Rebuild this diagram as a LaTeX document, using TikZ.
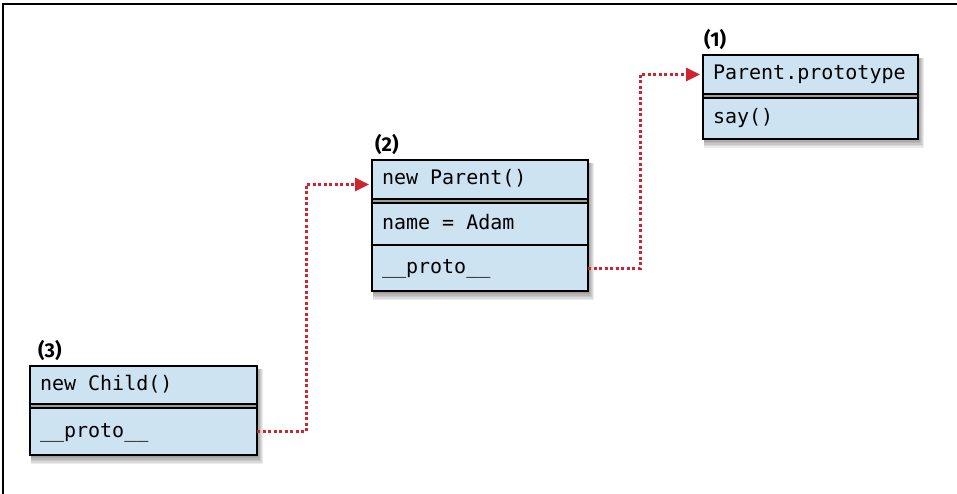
\documentclass[tikz,border=0pt]{standalone}
\usepackage{fontspec}
\setmonofont{DejaVu Sans Mono}
\setsansfont{Fira Sans}
\usepackage{tikz}
\usetikzlibrary{arrows.meta,positioning,backgrounds}
\definecolor{cellblue}{RGB}{205,227,241}
\definecolor{linkred}{RGB}{206,36,48}
\newcommand{\gap}{\hspace{.602em}}
\tikzset{
	cell/.style={draw, line width=1.5pt, fill=cellblue, anchor=north west, outer sep=0pt, inner xsep=10pt, inner ysep=0pt, text width=#1, align=left, font=\ttfamily\fontsize{20}{24}\selectfont, text height=15pt, text depth=4pt},
	frame/.style={draw, line width=2.5pt},
	tag/.style={inner sep=0pt, font=\sffamily\bfseries\fontsize{20}{24}\selectfont},
	link/.style={draw=linkred, line width=3pt, dash pattern=on 3pt off 2.5pt, shorten >=3pt, -{Triangle[length=14pt,width=13pt]}}
}

\begin{document}
\begin{tikzpicture}[x=1pt,y=-1pt]
	\useasboundingbox (0,0) rectangle (957,494);
	\draw[line width=2pt] (3,494) -- (3,4) -- (957,4);
	\node[cell=195pt, minimum height=39pt] (p1head) at (703,55) {Parent.prototype};
	\node[cell=195pt, minimum height=41pt, below right=4pt and 0pt of p1head.south west] (p1say) {say()};
	\node[cell=196pt, minimum height=39pt] (p2head) at (372,160) {new\gap Parent()};
	\node[cell=196pt, minimum height=42pt, below right=4pt and 0pt of p2head.south west] (p2name) {name\gap =\gap Adam};
	\node[cell=196pt, minimum height=46pt, below right=0pt and 0pt of p2name.south west] (p2proto) {\_\_proto\_\_};
	\node[cell=207pt, minimum height=38pt] (p3head) at (30,366) {new\gap Child()};
	\node[cell=207pt, minimum height=47pt, below right=4pt and 0pt of p3head.south west] (p3proto) {\_\_proto\_\_};
	\draw[frame] (p1head.north west) rectangle (p1say.south east);
	\draw[frame] (p2head.north west) rectangle (p2proto.south east);
	\draw[frame] (p3head.north west) rectangle (p3proto.south east);
	\begin{scope}[on background layer]
		\foreach \a/\b in {p1head/p1say,p2head/p2proto,p3head/p3proto}
			\foreach \s in {1,...,6}
				\fill[black, opacity=.08] ([shift={(1,3)}]\a.north west) rectangle ([shift={(\s,1.5*\s)}]\b.south east);
	\end{scope}
	\node[tag, above right=5pt and 1pt of p1head.north west] (n1) {(1)};
	\node[tag, above right=5pt and 3pt of p2head.north west] (n2) {(2)};
	\node[tag, above right=5pt and 8pt of p3head.north west] (n3) {(3)};
	\draw[link] (p3proto.east) -- ++(49,0) |- ([yshift=-5pt]p2head.west);
	\draw[link] (p2proto.east) -- ++(52,0) |- (p1head.west);
\end{tikzpicture}
\end{document}
